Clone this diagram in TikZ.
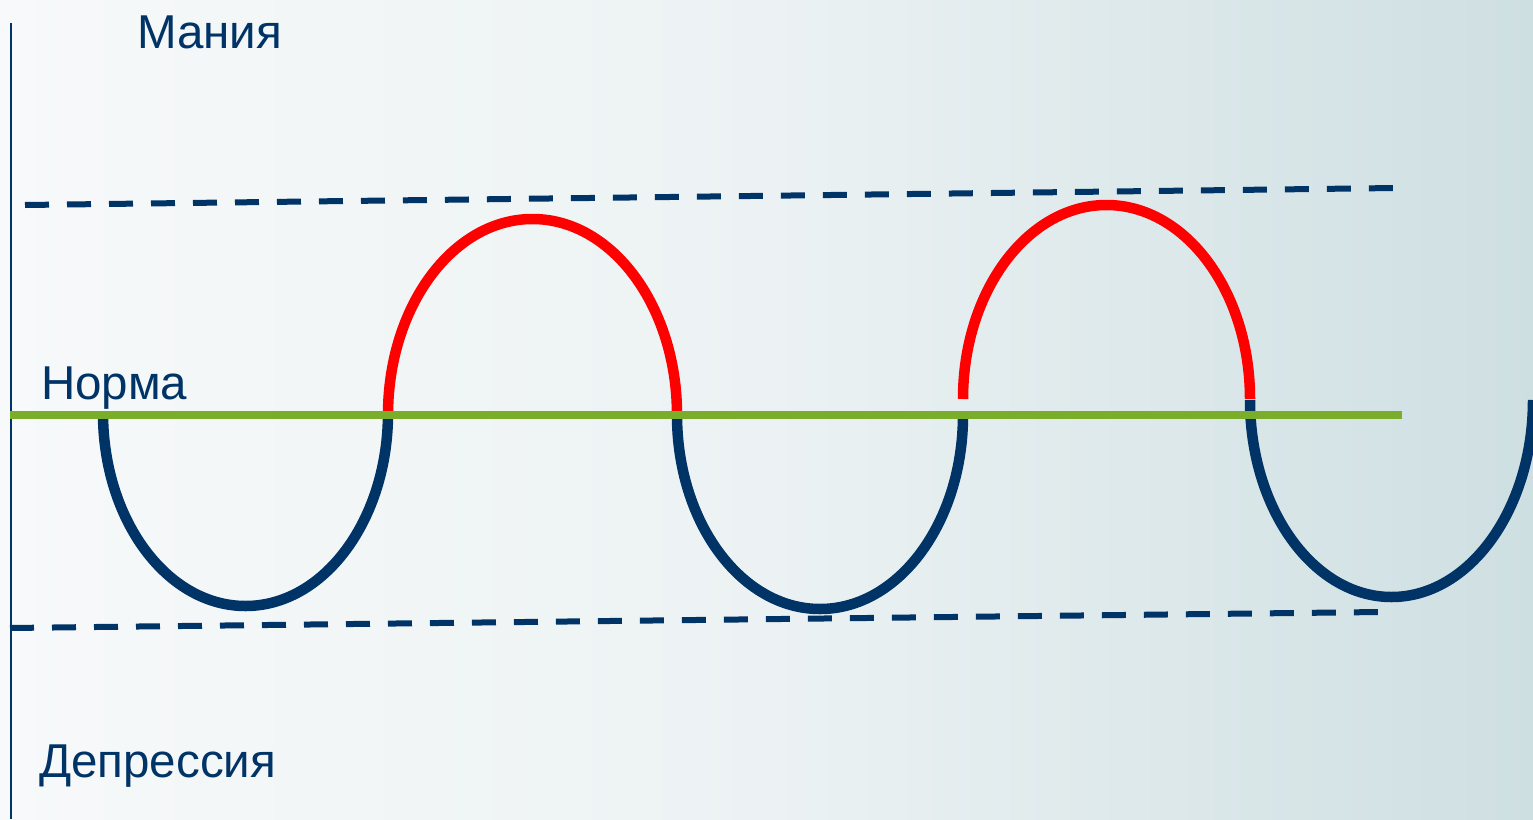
\documentclass[tikz,border=0pt]{standalone}
\usepackage{fontspec}
\setmainfont{Liberation Sans}
\definecolor{navy}{RGB}{0,51,102}
\definecolor{normgreen}{RGB}{122,174,42}
\definecolor{bgleft}{RGB}{247,249,250}
\definecolor{bgmid}{RGB}{236,242,243}
\definecolor{bgright}{RGB}{206,223,226}
\begin{document}
\begin{tikzpicture}[x=1pt,y=-1pt,
  lbl/.style={text=navy,font=\fontsize{47.5}{52}\selectfont,inner sep=0pt,anchor=base west},
  limit/.style={navy,line width=6pt,dash pattern=on 24pt off 18pt},
  low/.style={navy,line width=10.5pt},
  high/.style={red,line width=10.5pt},
  norm/.style={normgreen,line width=8pt}]
\fill[left color=bgleft,right color=bgright,middle color=bgmid] (0,0) rectangle (1533,819);
\useasboundingbox (0,0) rectangle (1533,819);
% axis
\draw[navy,line width=2pt] (11,23) -- (11,819);
% limits
\coordinate (t1) at (25,205); \coordinate (t2) at (1395,188);
\coordinate (b1) at (10,628); \coordinate (b2) at (1380,612);
\draw[limit] (t1) -- (t2);
\draw[limit] (b1) -- (b2);
% waves
\coordinate (w0) at (103,413);
\coordinate (w1) at (388,415);
\coordinate (w2) at (677,415);
\coordinate (w3r) at (963,399);
\coordinate (w4) at (1250,400);
\draw[low] (w0) arc[start angle=180,end angle=360,x radius=142.5pt,y radius=193pt];
\draw[high] (w1) arc[start angle=180,end angle=0,x radius=144.5pt,y radius=196pt];
\draw[low] (w2) arc[start angle=180,end angle=360,x radius=143pt,y radius=194pt];
\draw[high] (w3r) arc[start angle=180,end angle=0,x radius=143.5pt,y radius=194pt];
\draw[low] (w4) arc[start angle=180,end angle=360,x radius=141.5pt,y radius=197pt];
% norm line
\coordinate (n1) at (10,415); \coordinate (n2) at (1402,415);
\draw[norm] (n1) -- (n2);
% labels
\node[lbl] (mania) at (137,48) {Мания};
\node[lbl] (norma) at (41,399) {Норма};
\node[lbl] (depr) at (39,777) {Депрессия};
\end{tikzpicture}
\end{document}
